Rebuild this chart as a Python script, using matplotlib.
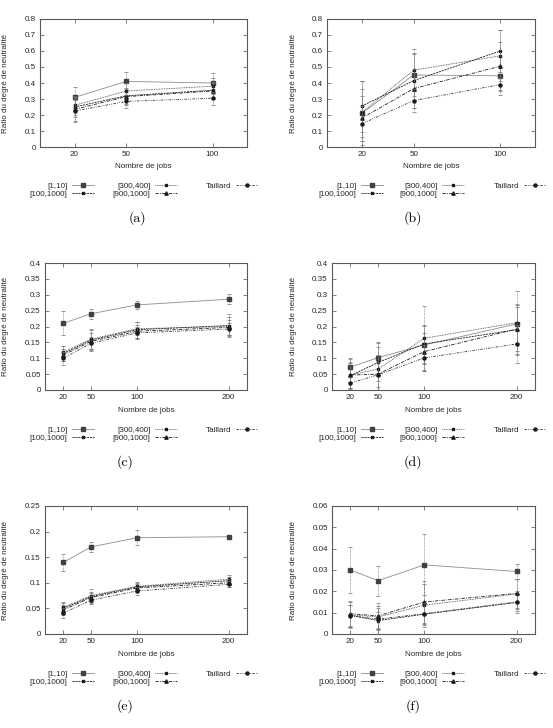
import matplotlib
matplotlib.use("Agg")
import matplotlib.pyplot as plt

# ---- Data ----
SERIES = ["[1,10]", "[100,1000]", "[300,400]", "[900,1000]", "Taillard"]
JOBS_3 = [20, 50, 100]
JOBS_4 = [20, 50, 100, 200]

# (a)
A_MEAN = [[0.31, 0.41, 0.40],
          [0.25, 0.32, 0.355],
          [0.26, 0.35, 0.38],
          [0.235, 0.315, 0.35],
          [0.225, 0.285, 0.305]]
A_ERR = [[0.065, 0.06, 0.06],
         [0.06, 0.05, 0.05],
         [0.06, 0.05, 0.05],
         [0.07, 0.05, 0.05],
         [0.07, 0.04, 0.04]]

# (b)
B_MEAN = [[0.21, 0.45, 0.445],
          [0.255, 0.415, 0.60],
          [0.215, 0.48, 0.57],
          [0.18, 0.365, 0.505],
          [0.145, 0.29, 0.39]]
B_ERR = [[0.2, 0.13, 0.12],
         [0.16, 0.17, 0.13],
         [0.15, 0.13, 0.16],
         [0.14, 0.12, 0.15],
         [0.11, 0.07, 0.04]]

# (c)
C_MEAN = [[0.21, 0.24, 0.268, 0.286],
          [0.115, 0.157, 0.19, 0.203],
          [0.12, 0.16, 0.193, 0.2],
          [0.11, 0.153, 0.185, 0.197],
          [0.10, 0.147, 0.18, 0.192]]
C_ERR = [[0.038, 0.015, 0.012, 0.015],
         [0.025, 0.035, 0.025, 0.035],
         [0.02, 0.03, 0.02, 0.03],
         [0.02, 0.025, 0.02, 0.025],
         [0.02, 0.02, 0.02, 0.02]]

# (d)
D_MEAN = [[0.072, 0.102, 0.142, 0.208],
          [0.045, 0.087, 0.145, 0.19],
          [0.047, 0.066, 0.163, 0.212],
          [0.047, 0.05, 0.121, 0.192],
          [0.022, 0.048, 0.101, 0.145]]
D_ERR = [[0.03, 0.05, 0.06, 0.06],
         [0.04, 0.06, 0.06, 0.08],
         [0.05, 0.07, 0.1, 0.1],
         [0.04, 0.06, 0.06, 0.07],
         [0.02, 0.04, 0.04, 0.06]]

# (e)
E_MEAN = [[0.14, 0.17, 0.188, 0.19],
          [0.05, 0.073, 0.092, 0.104],
          [0.052, 0.075, 0.093, 0.107],
          [0.047, 0.071, 0.09, 0.1],
          [0.041, 0.066, 0.084, 0.097]]
E_ERR = [[0.016, 0.009, 0.015, 0.003],
         [0.01, 0.01, 0.008, 0.008],
         [0.01, 0.012, 0.009, 0.008],
         [0.01, 0.01, 0.008, 0.008],
         [0.01, 0.008, 0.007, 0.006]]

# (f)
F_MEAN = [[0.030, 0.025, 0.0324, 0.0293],
          [0.0088, 0.0063, 0.0093, 0.0148],
          [0.009, 0.008, 0.0135, 0.0188],
          [0.0095, 0.0085, 0.015, 0.019],
          [0.0085, 0.007, 0.0095, 0.015]]
F_ERR = [[0.011, 0.007, 0.0143, 0.0035],
         [0.005, 0.004, 0.005, 0.004],
         [0.006, 0.005, 0.01, 0.007],
         [0.006, 0.006, 0.01, 0.007],
         [0.005, 0.005, 0.005, 0.005]]

# ---- Style ----
W, H = 553, 728
FONT = "Liberation Sans"
FS = 5.8
plt.rcParams["font.family"] = FONT
plt.rcParams["font.size"] = FS

STYLES = [
    dict(color="0.55", ls="-", marker="s", ms=2.8, mfc="0.25", mec="0.25"),
    dict(color="0.1", ls=(0, (2.5, 1)), marker="s", ms=1.8, mfc="0.1", mec="0.1"),
    dict(color="0.25", ls=(0, (1, 1)), marker="s", ms=2.0, mfc="0.1", mec="0.1"),
    dict(color="0.1", ls=(0, (4, 1.5, 1, 1.5)), marker="^", ms=2.4, mfc="0.1", mec="0.1"),
    dict(color="0.2", ls=(0, (3, 1.5, 1, 1.5, 1, 1.5)), marker="o", ms=2.2, mfc="0.1", mec="0.1"),
]

# panel: (left, right, top, bottom) in pixels, y max, y step, jobs, means, errs, caption
PANELS = [
    ((40, 247, 19, 147), 0.8, 0.1, JOBS_3, A_MEAN, A_ERR, "(a)", "L", 0),
    ((327, 535, 19, 147), 0.8, 0.1, JOBS_3, B_MEAN, B_ERR, "(b)", "R", 0),
    ((45, 247, 263, 390), 0.4, 0.05, JOBS_4, C_MEAN, C_ERR, "(c)", "L", 1),
    ((332, 535, 263, 390), 0.4, 0.05, JOBS_4, D_MEAN, D_ERR, "(d)", "R", 1),
    ((45, 247, 506, 634), 0.25, 0.05, JOBS_4, E_MEAN, E_ERR, "(e)", "L", 2),
    ((332, 535, 506, 634), 0.06, 0.01, JOBS_4, F_MEAN, F_ERR, "(f)", "R", 2),
]

LEG_COLS = {"L": [98, 181, 262], "R": [387, 468, 550]}
YLAB_X = {"L": 6, "R": 294}
CAP_POS = {"(a)": (137, 218), "(b)": (413, 218), "(c)": (125, 462),
           "(d)": (413, 462), "(e)": (125, 706), "(f)": (413, 706)}


def fmt(v):
    s = f"{v:.2f}".rstrip("0").rstrip(".")
    return s


fig = plt.figure(figsize=(W / 100, H / 100), dpi=100)

for (l, r, t, b), ymax, ystep, jobs, means, errs, cap, side, row in PANELS:
    ax = fig.add_axes([l / W, 1 - b / H, (r - l) / W, (b - t) / H])
    handles = []
    for name, m, e, st in zip(SERIES, means, errs, STYLES):
        ax.errorbar(jobs, m, yerr=e, fmt="none", ecolor="0.45", elinewidth=0.5,
                    capsize=1.5, capthick=0.5, ls="none")
        ln, = ax.plot(jobs, m, lw=0.6, label=name, **st)
        handles.append(ln)
    for c in ax.collections:
        c.set_linestyle((0, (1, 1)))
    ax.set_xlim(0, 120 if len(jobs) == 3 else 220)
    ax.set_ylim(0, ymax)
    ax.set_xticks(jobs)
    n = int(round(ymax / ystep))
    yt = [i * ystep for i in range(n + 1)]
    ax.set_yticks(yt)
    ax.set_yticklabels([fmt(v) for v in yt])
    ax.tick_params(direction="in", top=True, right=True, length=3, width=0.5,
                   labelsize=FS, pad=3, colors="0.3", labelcolor="0.15")
    for sp in ax.spines.values():
        sp.set_color("0.35")
        sp.set_linewidth(0.8)

    fig.text((l + r) / 2 / W, 1 - (b + 20) / H, "Nombre de jobs", ha="center",
             va="center", fontsize=FS, color="0.15")
    fig.text(YLAB_X[side] / W, 1 - (t + b) / 2 / H, "Ratio du degré de neutralité",
             rotation=90, ha="center", va="center", fontsize=FS, color="0.15")

    # gnuplot-like key: three right-aligned columns
    top = 178 + 244 * row
    groups = [handles[0:2], handles[2:4], handles[4:5]]
    for xr, grp in zip(LEG_COLS[side], groups):
        leg = fig.legend(handles=grp, loc="upper right",
                         bbox_to_anchor=(xr / W, 1 - top / H), frameon=False,
                         markerfirst=False, borderpad=0, handlelength=2.7,
                         handletextpad=0.6, labelspacing=0.05, fontsize=FS)
        for tx in leg.get_texts():
            tx.set_color("0.15")

    cx, cy = CAP_POS[cap]
    fig.text(cx / W, 1 - cy / H, cap, ha="center", va="center", fontsize=10,
             family="cmr10")

fig.savefig("out.png", dpi=100)
